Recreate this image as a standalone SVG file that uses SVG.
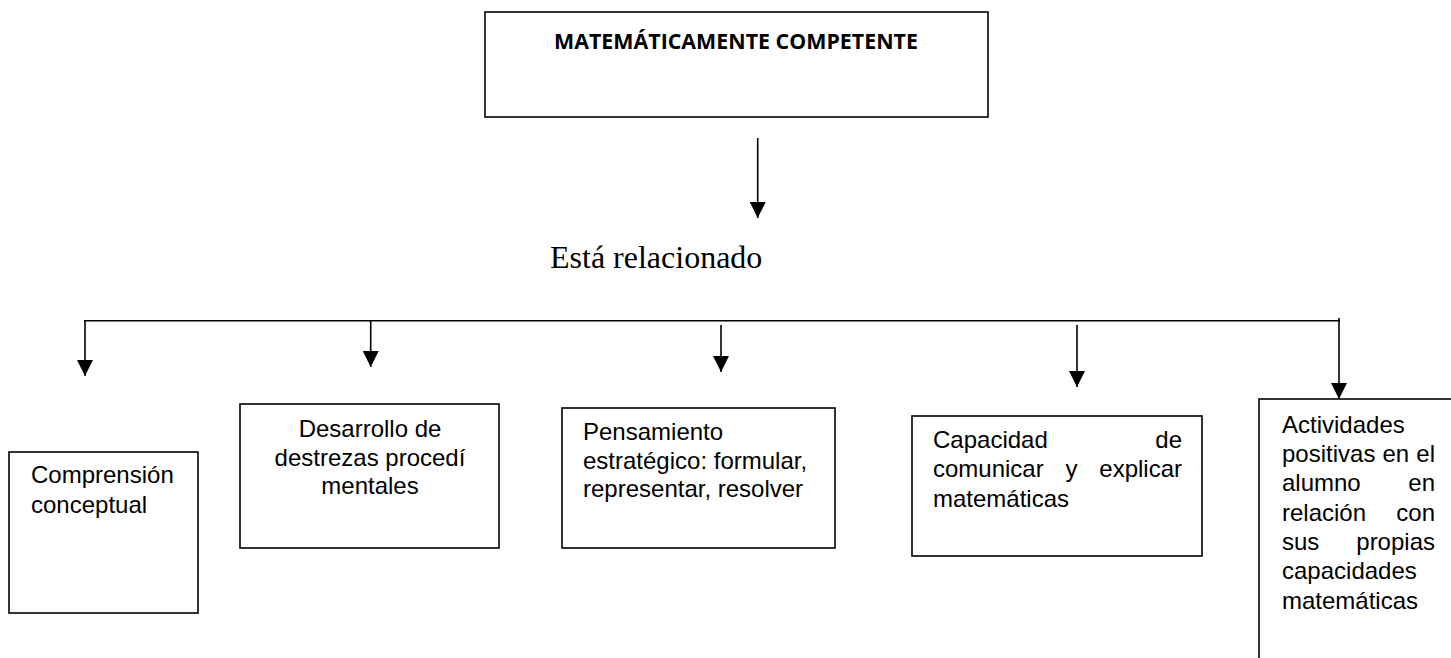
<svg xmlns="http://www.w3.org/2000/svg" width="1451" height="658" viewBox="0 0 1451 658">
<style>
.box{fill:#fff;stroke:#000;stroke-width:1.6}
.t{font-family:"Liberation Sans",Arial,sans-serif;font-size:24px;fill:#000}
.title{font-family:"Open Sans","Liberation Sans",sans-serif;font-weight:bold;font-size:21px;fill:#000}
.ser{font-family:"Liberation Serif","Times New Roman",serif;font-size:32px;fill:#000}
.ln{stroke:#000;stroke-width:1.6;fill:none}
.ar{stroke:#000;stroke-width:1.6;fill:none;marker-end:url(#ah)}
</style>
<defs>
<marker id="ah" markerUnits="userSpaceOnUse" markerWidth="16" markerHeight="16" viewBox="0 0 16 16" refX="16" refY="8" orient="auto">
<path d="M0,0 L16,8 L0,16 z" fill="#000"/>
</marker>
</defs>
<rect width="1451" height="658" fill="#fff"/>
<g id="top">
<rect class="box" x="485" y="12" width="503" height="105"/>
<text class="title" x="554" y="49" textLength="364" lengthAdjust="spacingAndGlyphs">MATEMÁTICAMENTE COMPETENTE</text>
</g>
<g id="label">
<text class="ser" x="550" y="268">Está relacionado</text>
</g>
<g id="connectors">
<line class="ar" x1="757.7" y1="138" x2="757.7" y2="218"/>
<line class="ln" x1="84" y1="320.7" x2="1340" y2="320.7"/>
<line class="ar" x1="85" y1="320" x2="85" y2="376"/>
<line class="ar" x1="370.7" y1="320" x2="370.7" y2="367"/>
<line class="ar" x1="721" y1="325" x2="721" y2="372"/>
<line class="ar" x1="1077" y1="325" x2="1077" y2="387"/>
<line class="ar" x1="1339" y1="318" x2="1339" y2="399"/>
</g>
<g id="comprension">
<rect class="box" x="9" y="452" width="189" height="161"/>
<text class="t" x="31" y="483">Comprensión</text>
<text class="t" x="31" y="513">conceptual</text>
</g>
<g id="desarrollo">
<rect class="box" x="240" y="404" width="259" height="144"/>
<text class="t" x="370" y="437" text-anchor="middle">Desarrollo de</text>
<text class="t" x="370" y="466" text-anchor="middle">destrezas procedí</text>
<text class="t" x="370" y="494" text-anchor="middle">mentales</text>
</g>
<g id="pensamiento">
<rect class="box" x="562" y="408" width="273" height="140"/>
<text class="t" x="583" y="440">Pensamiento</text>
<text class="t" x="583" y="469">estratégico: formular,</text>
<text class="t" x="583" y="497">representar, resolver</text>
</g>
<g id="capacidad">
<rect class="box" x="912" y="416" width="290" height="140"/>
<text class="t" x="933" y="448">Capacidad</text>
<text class="t" x="1182" y="448" text-anchor="end">de</text>
<text class="t" x="933" y="477">comunicar</text>
<text class="t" x="1065.5" y="477">y</text>
<text class="t" x="1182" y="477" text-anchor="end">explicar</text>
<text class="t" x="933" y="507">matemáticas</text>
</g>
<g id="actividades">
<rect class="box" x="1259" y="399" width="200" height="270"/>
<text class="t" x="1282" y="433">Actividades</text>
<text class="t" x="1282" y="462">positivas</text>
<text class="t" x="1382.5" y="462">en</text>
<text class="t" x="1435" y="462" text-anchor="end">el</text>
<text class="t" x="1282" y="491">alumno</text>
<text class="t" x="1435" y="491" text-anchor="end">en</text>
<text class="t" x="1282" y="521">relación</text>
<text class="t" x="1435" y="521" text-anchor="end">con</text>
<text class="t" x="1282" y="550">sus</text>
<text class="t" x="1435" y="550" text-anchor="end">propias</text>
<text class="t" x="1282" y="579">capacidades</text>
<text class="t" x="1282" y="609">matemáticas</text>
</g>
</svg>
